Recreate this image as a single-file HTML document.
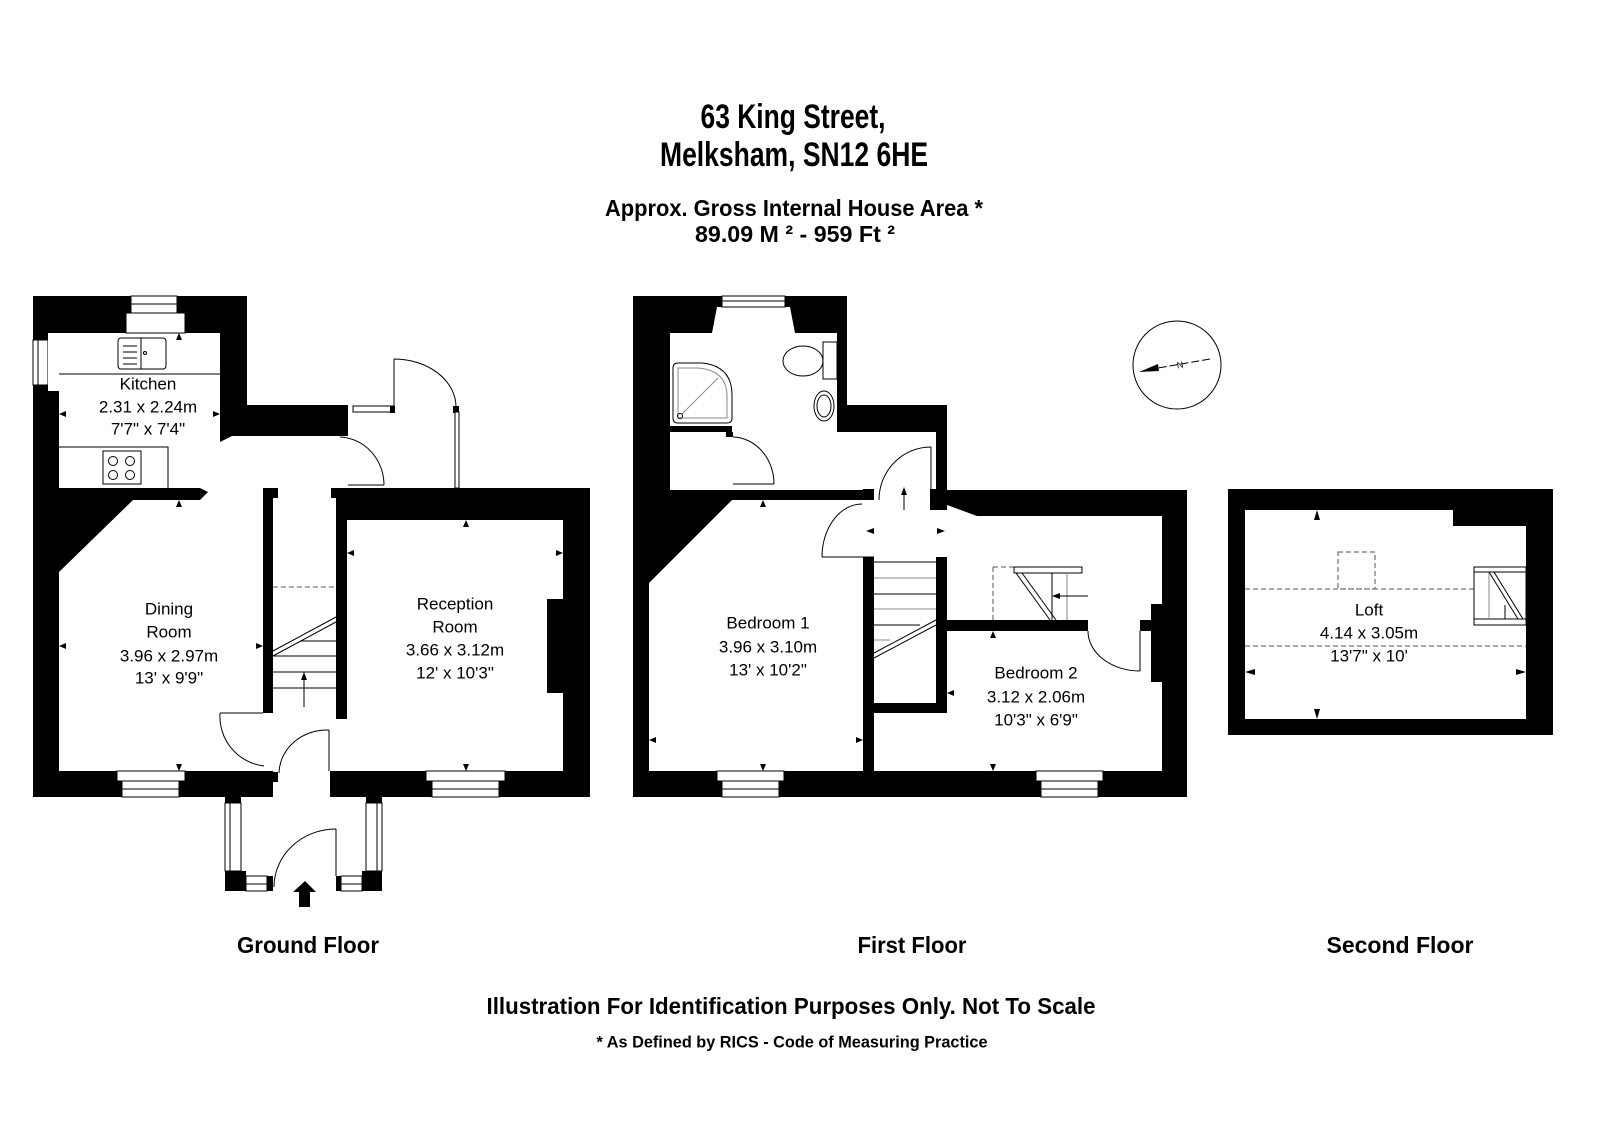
<!DOCTYPE html>
<html><head><meta charset="utf-8"><style>
html,body{margin:0;padding:0;background:#fff;}
svg{display:block;}
text{font-family:"Liberation Sans",Arial,sans-serif;fill:#000;}
.t{font-size:17px;text-anchor:middle;dominant-baseline:central;}
.b{font-weight:bold;text-anchor:middle;dominant-baseline:central;}
.ln{stroke:#000;stroke-width:1;fill:none;}
.gr{stroke:#888;stroke-width:1;fill:none;}
.ds{stroke:#555;stroke-width:1;fill:none;stroke-dasharray:5,3;}
</style></head><body>
<svg width="1600" height="1140" viewBox="0 0 1600 1140" xmlns="http://www.w3.org/2000/svg">
<rect width="1600" height="1140" fill="#fff"/>

<!-- Titles -->
<text class="b" x="793" y="117" font-size="34" textLength="185" lengthAdjust="spacingAndGlyphs">63 King Street,</text>
<text class="b" x="794" y="155" font-size="34" textLength="268" lengthAdjust="spacingAndGlyphs">Melksham, SN12 6HE</text>
<text class="b" x="794" y="208" font-size="23" textLength="378" lengthAdjust="spacingAndGlyphs">Approx. Gross Internal House Area *</text>
<text class="b" x="795" y="234" font-size="23" textLength="200" lengthAdjust="spacingAndGlyphs">89.09 M ²  -  959 Ft ²</text>

<text class="b" x="308" y="945" font-size="23" textLength="142" lengthAdjust="spacingAndGlyphs">Ground Floor</text>
<text class="b" x="912" y="945" font-size="23" textLength="109" lengthAdjust="spacingAndGlyphs">First Floor</text>
<text class="b" x="1400" y="945" font-size="23" textLength="147" lengthAdjust="spacingAndGlyphs">Second Floor</text>
<text class="b" x="791" y="1006" font-size="23" textLength="609" lengthAdjust="spacingAndGlyphs">Illustration For Identification Purposes Only. Not To Scale</text>
<text class="b" x="792" y="1042" font-size="17" textLength="391" lengthAdjust="spacingAndGlyphs">* As Defined by RICS - Code of Measuring Practice</text>

<!-- ================= GROUND FLOOR ================= -->
<g>
<!-- left wall -->
<rect x="33" y="296" width="26" height="501" fill="#000"/>
<!-- kitchen top wall -->
<rect x="33" y="296" width="214" height="37" fill="#000"/>
<!-- kitchen right wall & notch -->
<rect x="220" y="296" width="27" height="110" fill="#000"/>
<rect x="220" y="405" width="128" height="31" fill="#000"/>
<polygon points="220,436 232,436 220,442" fill="#000"/>
<!-- kitchen window -->
<rect x="131" y="296" width="46" height="17" fill="#fff" stroke="#000"/>
<line x1="131" y1="304" x2="177" y2="304" class="ln"/>
<rect x="126" y="313" width="59" height="20" fill="#fff" stroke="#000"/>
<!-- left side window -->
<rect x="33" y="340" width="15" height="45" fill="#fff" stroke="#000"/>
<rect x="48" y="333" width="11" height="58" fill="#fff"/>
<line x1="38" y1="340" x2="38" y2="385" class="ln"/>
<!-- counters -->
<line x1="59" y1="374" x2="220" y2="374" class="ln"/>
<rect x="118" y="338" width="48" height="31" rx="3" class="ln"/>
<line x1="141" y1="338" x2="141" y2="369" class="ln"/>
<line x1="123" y1="346" x2="137" y2="346" class="ln"/>
<line x1="123" y1="352" x2="137" y2="352" class="ln"/>
<line x1="123" y1="358" x2="137" y2="358" class="ln"/>
<line x1="123" y1="364" x2="137" y2="364" class="ln"/>
<circle cx="145" cy="353" r="1.5" class="ln"/>
<polyline points="59,447 168,447 168,488" class="ln"/>
<rect x="103" y="451" width="38" height="33" class="ln"/>
<circle cx="113" cy="461" r="4.5" class="ln"/><circle cx="130" cy="461" r="4.5" class="ln"/>
<circle cx="113" cy="475" r="4.5" class="ln"/><circle cx="130" cy="475" r="4.5" class="ln"/>
<!-- kitchen/dining wall -->
<polygon points="59,488 200,488 208,492 200,500 59,500" fill="#000"/>
<!-- dining diagonal -->
<polygon points="59,500 133,500 59,572" fill="#000"/>
<!-- bottom wall left -->
<rect x="33" y="771" width="240" height="26" fill="#000"/>
<rect x="273" y="772" width="5" height="10" fill="#000"/>
<rect x="117" y="771" width="68" height="10" fill="#fff" stroke="#000"/>
<rect x="122" y="781" width="57" height="16" fill="#fff" stroke="#000"/>
<line x1="122" y1="789" x2="179" y2="789" class="ln"/>
<!-- hall left wall -->
<rect x="263" y="488" width="10" height="225" fill="#000"/>
<rect x="263" y="488" width="15" height="10" fill="#000"/>
<!-- stairs -->
<line x1="273" y1="587" x2="336" y2="587" class="ds"/>
<line x1="300" y1="641" x2="336" y2="641" class="ln"/>
<line x1="273" y1="656" x2="336" y2="656" class="ln"/>
<line x1="273" y1="672" x2="336" y2="672" class="ln"/>
<line x1="273" y1="688" x2="336" y2="688" class="ln"/>
<line x1="273" y1="651" x2="336" y2="617" class="ln"/>
<line x1="273" y1="656" x2="336" y2="622" class="ln"/>
<line x1="304" y1="707" x2="304" y2="676" class="ln"/>
<polygon points="304,672 301,680 307,680" fill="#000"/>
<!-- reception -->
<rect x="336" y="488" width="254" height="32" fill="#000"/>
<rect x="331" y="488" width="17" height="10" fill="#000"/>
<rect x="336" y="488" width="11" height="231" fill="#000"/>
<rect x="563" y="488" width="27" height="309" fill="#000"/>
<rect x="330" y="771" width="260" height="26" fill="#000"/>
<rect x="330" y="771" width="6" height="10" fill="#000"/>
<rect x="547" y="599" width="16" height="94" fill="#000"/>
<rect x="426" y="771" width="79" height="10" fill="#fff" stroke="#000"/>
<rect x="432" y="781" width="67" height="16" fill="#fff" stroke="#000"/>
<line x1="432" y1="789" x2="499" y2="789" class="ln"/>
<!-- doors ground -->
<line x1="220" y1="713" x2="263" y2="713" class="ln"/>
<path d="M220,713 A50,50 0 0 0 264,766" class="ln"/>
<line x1="329" y1="730" x2="329" y2="771" class="ln"/>
<path d="M329,730 A48,44 0 0 0 279,773" class="ln"/>
<!-- kitchen-hall door -->
<line x1="348" y1="485" x2="384" y2="485" class="ln"/>
<path d="M340,437 A46,48 0 0 1 384,485" class="ln"/>
<!-- back annex -->
<line x1="394" y1="359" x2="394" y2="407" class="ln"/>
<rect x="353" y="406" width="41" height="6" fill="#fff" stroke="#000"/>
<rect x="390" y="406" width="5" height="7" fill="#000"/>
<path d="M394,359 A62,48 0 0 1 456,407" class="ln"/>
<rect x="453" y="406" width="6" height="7" fill="#000"/>
<rect x="455" y="412" width="4" height="76" fill="#fff" stroke="#000"/>
<!-- porch -->
<rect x="225" y="797" width="16" height="6" fill="#000"/>
<rect x="225" y="803" width="16" height="68" fill="#fff" stroke="#000"/>
<line x1="230" y1="803" x2="230" y2="871" class="ln"/>
<rect x="366" y="797" width="16" height="6" fill="#000"/>
<rect x="366" y="803" width="16" height="68" fill="#fff" stroke="#000"/>
<line x1="377" y1="803" x2="377" y2="871" class="ln"/>
<rect x="225" y="871" width="21" height="20" fill="#000"/>
<rect x="267" y="876" width="6" height="15" fill="#000"/>
<rect x="246" y="876" width="21" height="15" fill="#fff" stroke="#000"/>
<line x1="246" y1="884" x2="267" y2="884" class="ln"/>
<rect x="336" y="876" width="5" height="15" fill="#000"/>
<rect x="341" y="876" width="21" height="15" fill="#fff" stroke="#000"/>
<line x1="341" y1="884" x2="362" y2="884" class="ln"/>
<rect x="362" y="871" width="20" height="20" fill="#000"/>
<line x1="336" y1="829" x2="336" y2="876" class="ln"/>
<path d="M336,829 A62,58 0 0 0 274,887" class="ln"/>
<!-- entrance arrow -->
<polygon points="305,881 293,892 299,892 299,907 310,907 310,892 316,892" fill="#000"/>
<!-- markers -->
<polygon points="179,333 176,340 182,340" fill="#000"/>
<polygon points="179,500 176,493 182,493" fill="#000"/>
<polygon points="179,500 176,507 182,507" fill="#000"/>
<polygon points="59,414 66,411 66,417" fill="#000"/>
<polygon points="220,414 213,411 213,417" fill="#000"/>
<polygon points="59,646 66,643 66,649" fill="#000"/>
<polygon points="263,646 256,643 256,649" fill="#000"/>
<polygon points="179,771 176,764 182,764" fill="#000"/>
<polygon points="466,520 463,527 469,527" fill="#000"/>
<polygon points="466,771 463,764 469,764" fill="#000"/>
<polygon points="347,553 354,550 354,556" fill="#000"/>
<polygon points="563,553 556,550 556,556" fill="#000"/>
<!-- labels -->
<text class="t" x="148" y="384">Kitchen</text>
<text class="t" x="148" y="407">2.31 x 2.24m</text>
<text class="t" x="148" y="429">7'7" x 7'4"</text>
<text class="t" x="169" y="609">Dining</text>
<text class="t" x="169" y="632">Room</text>
<text class="t" x="169" y="656">3.96 x 2.97m</text>
<text class="t" x="169" y="678">13' x 9'9"</text>
<text class="t" x="455" y="604">Reception</text>
<text class="t" x="455" y="627">Room</text>
<text class="t" x="455" y="650">3.66 x 3.12m</text>
<text class="t" x="455" y="673">12' x 10'3"</text>
</g>

<!-- ================= FIRST FLOOR ================= -->
<g>
<polygon points="633,296 847,296 847,405 947,405 947,490 1187,490 1187,797 633,797" fill="#000"/>
<!-- bathroom -->
<polygon points="670,333 837,333 837,432 936,432 936,490 670,490" fill="#fff"/>
<polygon points="712,333 717,307 790,307 795,333" fill="#fff"/>
<rect x="722" y="296" width="63" height="11" fill="#fff" stroke="#000"/>
<line x1="722" y1="301" x2="785" y2="301" class="ln"/>
<rect x="670" y="426" width="62" height="6" fill="#000"/>
<rect x="726" y="432" width="7" height="5" fill="#000"/>
<path d="M673,368 Q673,363 678,363 L702,363 Q732,366 732,395 L732,418 Q732,423 727,423 L678,423 Q673,423 673,418 Z" class="ln"/>
<path d="M678,368 L698,368 Q726,370 727,395 L727,418 L678,418 Z" class="gr"/>
<line x1="682" y1="414" x2="718" y2="378" class="gr"/>
<circle cx="680" cy="416" r="2.5" class="ln"/>
<line x1="733" y1="484" x2="774" y2="484" class="ln"/>
<path d="M733,437 A42,47 0 0 1 774,484" class="ln"/>
<ellipse cx="803" cy="361" rx="20" ry="15" class="ln"/>
<rect x="823" y="342" width="14" height="37" fill="#fff" stroke="#000"/>
<ellipse cx="824" cy="406" rx="10" ry="15" class="ln"/>
<ellipse cx="824" cy="406" rx="7" ry="11" class="ln"/>
<!-- bedroom1 -->
<polygon points="732,500 863,500 863,771 649,771 649,583" fill="#fff"/>
<rect x="863" y="500" width="11" height="57" fill="#fff"/>
<rect x="717" y="771" width="67" height="10" fill="#fff" stroke="#000"/>
<rect x="722" y="781" width="57" height="16" fill="#fff" stroke="#000"/>
<line x1="722" y1="789" x2="779" y2="789" class="ln"/>
<!-- landing -->
<rect x="874" y="489" width="62" height="214" fill="#fff"/>
<rect x="930" y="489" width="17" height="21" fill="#000"/>
<rect x="863" y="489" width="11" height="11" fill="#000"/>
<!-- bedroom2 -->
<polygon points="936,510 947,510 947,505 977,516 1162,516 1162,771 874,771 874,713 947,713 947,557 936,557" fill="#fff"/>
<rect x="947" y="620" width="141" height="11" fill="#000"/>
<rect x="1140" y="620" width="11" height="11" fill="#000"/>
<rect x="1151" y="604" width="11" height="78" fill="#000"/>
<rect x="1036" y="771" width="67" height="10" fill="#fff" stroke="#000"/>
<rect x="1041" y="781" width="57" height="16" fill="#fff" stroke="#000"/>
<line x1="1041" y1="789" x2="1098" y2="789" class="ln"/>
<!-- stairs FF -->
<line x1="874" y1="562" x2="936" y2="562" class="ln"/>
<line x1="874" y1="578" x2="936" y2="578" class="gr"/>
<line x1="874" y1="594" x2="936" y2="594" class="ln"/>
<line x1="874" y1="609" x2="936" y2="609" class="gr"/>
<line x1="874" y1="625" x2="920" y2="625" class="ln"/>
<line x1="874" y1="640" x2="890" y2="640" class="gr"/>
<line x1="874" y1="653" x2="936" y2="620" class="ln"/>
<line x1="874" y1="658" x2="936" y2="625" class="ln"/>
<line x1="904" y1="510" x2="904" y2="490" class="ln"/>
<polygon points="904,487 901,495 907,495" fill="#000"/>
<!-- doors FF -->
<line x1="931" y1="447" x2="931" y2="500" class="ln"/>
<path d="M931,447 A52,53 0 0 0 879,500" class="ln"/>
<line x1="822" y1="557" x2="874" y2="557" class="ln"/>
<path d="M862,504 A40,53 0 0 0 822,557" class="ln"/>
<line x1="1140" y1="631" x2="1140" y2="671" class="ln"/>
<path d="M1088,631 A52,40 0 0 0 1140,671" class="ln"/>
<!-- loft stair in bed2 -->
<line x1="993" y1="567" x2="993" y2="620" class="ds"/>
<line x1="993" y1="567" x2="1014" y2="567" class="ds"/>
<rect x="1014" y="567" width="68" height="6" fill="#fff" stroke="#000"/>
<path d="M1016,573 L1050,620 M1022,573 L1056,620" class="ln"/>
<line x1="1052" y1="573" x2="1052" y2="620" class="ln"/>
<line x1="1067" y1="573" x2="1067" y2="620" class="gr"/>
<line x1="1088" y1="596" x2="1055" y2="596" class="ln"/>
<polygon points="1052,596 1060,593 1060,599" fill="#000"/>
<!-- markers FF -->
<polygon points="763,500 760,507 766,507" fill="#000"/>
<polygon points="763,771 760,764 766,764" fill="#000"/>
<polygon points="649,740 656,737 656,743" fill="#000"/>
<polygon points="863,740 856,737 856,743" fill="#000"/>
<polygon points="993,631 990,638 996,638" fill="#000"/>
<polygon points="993,771 990,764 996,764" fill="#000"/>
<polygon points="947,693 954,690 954,696" fill="#000"/>
<polygon points="866,531 874,528 874,534" fill="#000"/>
<polygon points="945,531 937,528 937,534" fill="#000"/>
<!-- labels FF -->
<text class="t" x="768" y="623">Bedroom 1</text>
<text class="t" x="768" y="647">3.96 x 3.10m</text>
<text class="t" x="768" y="670">13' x 10'2"</text>
<text class="t" x="1036" y="673">Bedroom 2</text>
<text class="t" x="1036" y="697">3.12 x 2.06m</text>
<text class="t" x="1036" y="720">10'3" x 6'9"</text>
</g>

<!-- compass -->
<circle cx="1177" cy="365" r="44" class="ln"/>
<line x1="1210" y1="359" x2="1152" y2="369" class="ln" stroke-dasharray="8,3"/>
<polygon points="1139,372 1158,364 1159,371" fill="#000"/>
<text x="1180" y="368" font-size="9" text-anchor="middle" transform="rotate(-10 1180 365)">N</text>

<!-- ================= SECOND FLOOR ================= -->
<g>
<rect x="1228" y="489" width="325" height="246" fill="#000"/>
<polygon points="1245,510 1453,510 1453,526 1526,526 1526,719 1245,719" fill="#fff"/>
<rect x="1338" y="552" width="37" height="37" class="ds"/>
<line x1="1245" y1="589" x2="1474" y2="589" class="ds"/>
<line x1="1245" y1="646" x2="1526" y2="646" class="ds"/>
<rect x="1474" y="567" width="52" height="58" fill="#fff" stroke="#000"/>
<rect x="1474" y="567" width="52" height="5" class="ln"/>
<rect x="1474" y="619" width="52" height="6" class="ln"/>
<line x1="1489" y1="572" x2="1489" y2="619" class="gr"/>
<path d="M1489,572 L1518,619 M1494,572 L1523,619" class="ln"/>
<line x1="1505" y1="605" x2="1505" y2="619" class="ln"/>
<polygon points="1317,510 1314,520 1320,520" fill="#000"/>
<polygon points="1317,719 1314,709 1320,709" fill="#000"/>
<polygon points="1245,672 1255,669 1255,675" fill="#000"/>
<polygon points="1526,672 1516,669 1516,675" fill="#000"/>
<text class="t" x="1369" y="610">Loft</text>
<text class="t" x="1369" y="633">4.14 x 3.05m</text>
<text class="t" x="1369" y="656">13'7" x 10'</text>
</g>
</svg>
</body></html>
